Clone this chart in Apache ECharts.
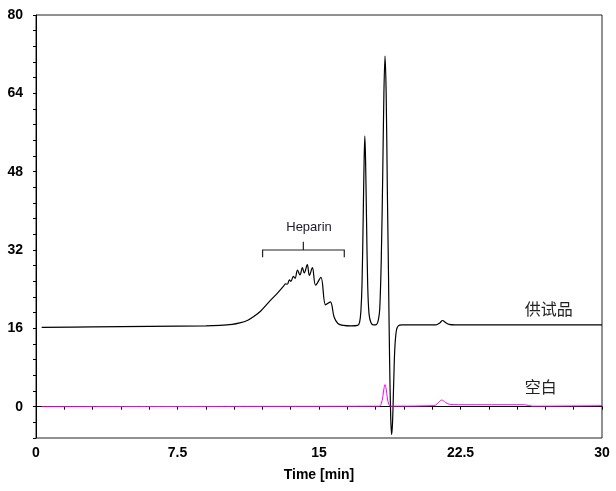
<!DOCTYPE html>
<html>
<head>
<meta charset="utf-8">
<script src="https://cdn.jsdelivr.net/npm/echarts@6/dist/echarts.min.js"></script>
<style>
  html, body { margin: 0; padding: 0; background: #fff; }
  #main { width: 616px; height: 491px; }
</style>
</head>
<body>
<div id="main"></div>
<script>
// 供试品 (sample) trace
var sampleTime = [0.3, 3, 6, 9, 9.75, 10.4, 10.8, 11.2, 11.5, 11.9, 12.4, 12.8, 13.1, 13.23, 13.32, 13.43, 13.51,
  13.64, 13.73, 13.86, 13.99, 14.12, 14.22, 14.38, 14.49, 14.65, 14.82, 15.1, 15.35, 15.6, 15.8, 16.0,
  16.3, 16.7, 17.05, 17.15, 17.22, 17.28, 17.34, 17.39, 17.43, 17.47, 17.52, 17.58, 17.65, 17.75, 17.88,
  18.05, 18.15, 18.22, 18.3, 18.38, 18.44, 18.5, 18.56, 18.62, 18.68, 18.74, 18.8, 18.85, 18.9, 18.96,
  19.02, 19.1, 19.2, 19.4, 21.2, 21.4, 21.55, 21.7, 21.9, 22.2, 30];
var sampleSignal = [16.2, 16.3, 16.4, 16.5, 16.6, 16.8, 17.1, 17.6, 18.3, 19.5, 21.6, 23.2, 24.5, 25.1, 25.0, 25.9, 25.6,
  26.6, 26.2, 27.9, 26.9, 28.4, 27.3, 29.0, 26.8, 28.4, 24.8, 26.4, 20.8, 21.4, 18.3, 17.0,
  16.6, 16.5, 16.6, 17.2, 19.5, 25, 38, 50, 55.3, 50, 38, 25, 19, 17.2, 16.7,
  16.8, 17.8, 20, 30, 48, 64, 71.6, 64, 45, 28, 10, -2, -5.7, -3, 5,
  12, 15.5, 16.5, 16.7, 16.7, 17.1, 17.6, 17.2, 16.8, 16.7, 16.7];

// 空白 (blank) trace
var blankTime = [0.3, 10, 18.2, 18.3, 18.38, 18.44, 18.5, 18.56, 18.62, 18.7, 18.8, 21.1, 21.3, 21.5,
  21.7, 21.9, 22.4, 25.9, 26.3, 30];
var blankSignal = [0, 0.05, 0.1, 0.6, 2.0, 3.6, 4.5, 3.6, 1.8, 0.5, 0.1, 0.2, 0.7, 1.35,
  0.9, 0.5, 0.4, 0.4, 0.1, 0.2];

var seriesNames = ['供试品', '空白'];
var xLabelStep = 7.5;
var yLabelStep = 16;

function zip(t, v) {
  return t.map(function (x, i) { return [x, v[i]]; });
}
function onStep(v, step) {
  return Math.abs(v / step - Math.round(v / step)) < 1e-6;
}

var labelFont = { color: '#000', fontSize: 14, fontWeight: 'bold', fontFamily: 'Liberation Sans, Arial, sans-serif' };

var chart = echarts.init(document.getElementById('main'));
var option = {
  animation: false,
  backgroundColor: '#fff',
  grid: { left: 36, right: 14, top: 15, bottom: 53, show: true, borderColor: '#222', borderWidth: 1 },
  xAxis: {
    type: 'value',
    min: 0,
    max: 30,
    interval: 1.5,
    name: 'Time [min]',
    nameLocation: 'middle',
    nameGap: 30,
    nameTextStyle: labelFont,
    axisLine: { show: true, lineStyle: { color: '#000', width: 1 } },
    axisTick: { show: true, length: 3, lineStyle: { color: '#000' } },
    splitLine: { show: false },
    axisLabel: Object.assign({
      margin: 8,
      formatter: function (v) {
        return onStep(v, xLabelStep) ? String(Math.round(v * 10) / 10) : '';
      }
    }, labelFont)
  },
  yAxis: {
    type: 'value',
    min: -6.4,
    max: 80,
    interval: 3.2,
    axisLine: { show: true, lineStyle: { color: '#000', width: 1 } },
    axisTick: { show: true, length: 3, lineStyle: { color: '#000' } },
    splitLine: { show: false },
    axisLabel: Object.assign({
      margin: 13,
      formatter: function (v) {
        return onStep(v, yLabelStep) ? String(Math.round(v)) : '';
      }
    }, labelFont)
  },
  series: [
    {
      name: seriesNames[0],
      type: 'line',
      data: zip(sampleTime, sampleSignal),
      showSymbol: false,
      smooth: 0.35,
      lineStyle: { color: '#000', width: 1.2 }
    },
    {
      name: seriesNames[1],
      type: 'line',
      data: zip(blankTime, blankSignal),
      showSymbol: false,
      smooth: 0.35,
      lineStyle: { color: '#ff00ff', width: 1 }
    }
  ]
};
chart.setOption(option);

// annotations: brace + labels, placed in data coordinates
function px(t, v) { return chart.convertToPixel({ gridIndex: 0 }, [t, v]); }
var brace = [[12.01, 30.5], [12.01, 32.0], [14.17, 32.0], [14.17, 33.7], [14.17, 32.0], [16.34, 32.0], [16.34, 30.5]];
var heparinPos = px(14.47, 36.7);
var samplePos = px(25.9, 19.9);
var blankPos = px(25.9, 4.0);
var cjkFont = '"Noto Sans CJK SC", sans-serif';

chart.setOption({
  graphic: [
    {
      type: 'polyline',
      shape: { points: brace.map(function (p) { return px(p[0], p[1]); }) },
      style: { stroke: '#222', lineWidth: 1.2, fill: null }
    },
    {
      type: 'text', x: heparinPos[0], y: heparinPos[1],
      style: { text: 'Heparin', fill: '#1a1a2a', font: '13px "Liberation Sans", Arial, sans-serif', textAlign: 'center', textVerticalAlign: 'middle' }
    },
    {
      type: 'text', x: samplePos[0], y: samplePos[1],
      style: { text: seriesNames[0], fill: '#222', font: '16px ' + cjkFont, textAlign: 'left', textVerticalAlign: 'middle' }
    },
    {
      type: 'text', x: blankPos[0], y: blankPos[1],
      style: { text: seriesNames[1], fill: '#222', font: '16px ' + cjkFont, textAlign: 'left', textVerticalAlign: 'middle' }
    }
  ]
});
</script>
</body>
</html>
